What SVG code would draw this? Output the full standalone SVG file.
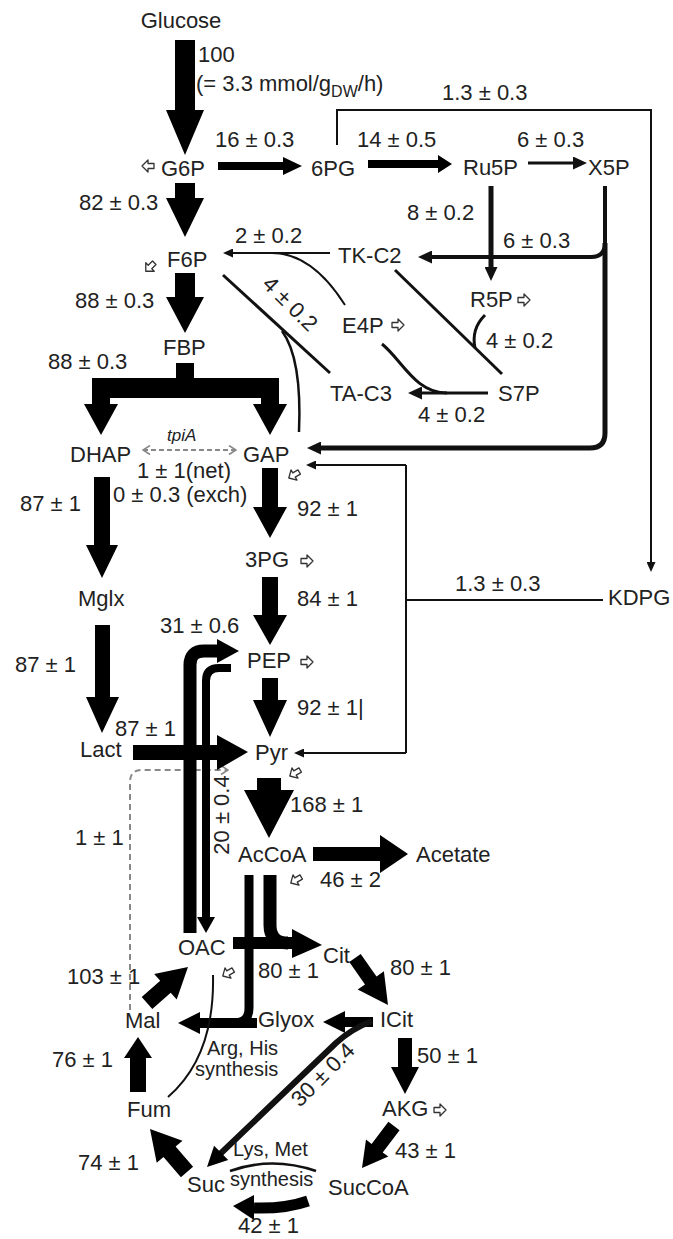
<svg xmlns="http://www.w3.org/2000/svg" width="673" height="1239" viewBox="0 0 673 1239">
<style>
.t{font-family:"Liberation Sans",Arial,Helvetica,sans-serif;font-size:22px;fill:#222}
.s{font-size:20px}
.i{font-style:italic;font-size:17px}
.m{text-anchor:middle}
.ln{fill:none;stroke:#111;stroke-linecap:butt}
.fat{fill:#000}
.band{fill:none;stroke:#000}
.dash{fill:none;stroke:#888;stroke-width:2}
</style>
<defs>
<marker id="hs" markerUnits="userSpaceOnUse" markerWidth="10" markerHeight="9" viewBox="0 0 10 9" refX="3" refY="4.5" orient="auto"><path d="M0,0 L10,4.5 L0,9 z" fill="#111"/></marker>
<marker id="hm" markerUnits="userSpaceOnUse" markerWidth="14" markerHeight="13" viewBox="0 0 14 13" refX="4" refY="6.5" orient="auto"><path d="M0,0 L14,6.5 L0,13 z" fill="#111"/></marker>
<marker id="chev" markerUnits="userSpaceOnUse" markerWidth="9" markerHeight="11" viewBox="0 0 9 11" refX="8" refY="5.5" orient="auto-start-reverse"><path d="M1,1 L8,5.5 L1,10" fill="none" stroke="#888" stroke-width="1.6"/></marker>
<path id="bio" d="M-6,-2.5 L0,-2.5 L0,-6 L6,0 L0,6 L0,2.5 L-6,2.5 Z" fill="#fff" stroke="#333" stroke-width="1.3" stroke-linejoin="round"/>
</defs>
<rect width="673" height="1239" fill="#fff"/>

<g id="connectors">
  <path class="dash" stroke-dasharray="6 4" d="M130 1010 L130 782 Q130 770 142 770 L228 770" marker-end="url(#chev)"/>
  <path class="dash" stroke-dasharray="5 3" d="M143 450 L236 450" marker-start="url(#chev)" marker-end="url(#chev)"/>
  <path class="ln" stroke-width="3" d="M528 163 L577 163" marker-end="url(#hm)"/>
  <path class="ln" stroke-width="2" d="M337 145 L337 110 L651 110 L651 565" marker-end="url(#hs)"/>
  <path class="ln" stroke-width="5" d="M491 186 L491 271" marker-end="url(#hm)"/>
  <path class="ln" stroke-width="4" d="M605 186 L605 243 Q605 257 591 257 L428 257" marker-end="url(#hm)"/>
  <path class="ln" stroke-width="5" d="M605 243 L605 433 Q605 448 590 448 L317 448" marker-end="url(#hm)"/>
  <path class="ln" stroke-width="2" d="M330 253 L230 253" marker-end="url(#hs)"/>
  <path class="ln" stroke-width="2" d="M272 253 Q312 253 345 305"/>
  <path class="ln" stroke-width="3" d="M223 275 L330 373"/>
  <path class="ln" stroke-width="2.5" d="M282 331 C296 350 301 385 299 432"/>
  <path class="ln" stroke-width="3" d="M395 270 L502 374"/>
  <path class="ln" stroke-width="3" d="M485 315 Q471 329 475 348"/>
  <path class="ln" stroke-width="3" d="M488 393 L418 393" marker-end="url(#hm)"/>
  <path class="ln" stroke-width="3" d="M382 344 C402 360 415 393 447 393"/>
  <path class="ln" stroke-width="2" d="M603 600 L406 600"/>
  <path class="ln" stroke-width="2" d="M406 465 L406 753"/>
  <path class="ln" stroke-width="2" d="M406 465 L313 465" marker-end="url(#hs)"/>
  <path class="ln" stroke-width="2" d="M406 753 L301 753" marker-end="url(#hs)"/>
  <polygon class="fat" points="175,40 195,40 195,110 204,110 185,155 166,110 175,110"/>
  <polygon class="fat" points="218,162 283,162 283,157 302,166 283,175 283,170 218,170"/>
  <polygon class="fat" points="368,160 438,160 438,155 452,164 438,173 438,168 368,168"/>
  <polygon class="fat" points="175,183 195,183 195,198 204,198 185,237 166,198 175,198"/>
  <polygon class="fat" points="175,273 195,273 195,297 204,297 185,333 166,297 175,297"/>
  <polygon class="fat" points="176,363 194,363 194,378 279,378 279,404 287,404 270,435 253,404 261,404 261,398 110,398 110,404 118,404 101,435 84,404 92,404 92,378 176,378"/>
  <polygon class="fat" points="94,477 110,477 110,545 118,545 102,578 86,545 94,545"/>
  <polygon class="fat" points="262,468 278,468 278,507 287,507 270,538 253,507 262,507"/>
  <polygon class="fat" points="262,577 278,577 278,615 287,615 270,645 253,615 262,615"/>
  <polygon class="fat" points="95,625 110,625 110,697 119,697 102,733 86,697 95,697"/>
  <polygon class="fat" points="262,678 278,678 278,700 287,700 270,737 253,700 262,700"/>
  <path class="band" stroke-width="13" d="M190 933 L190 665 Q190 651 204 651 L218 651"/>
  <polygon class="fat" points="217,639 239,651 217,663"/>
  <path class="band" stroke-width="8" d="M231 668 L219 668 Q206 668 206 681 L206 918"/>
  <polygon class="fat" points="197,917 215,917 206,933"/>
  <polygon class="fat" points="133,745 217,745 217,735 248,752 217,770 217,760 133,760"/>
  <polygon class="fat" points="257,778 281,778 281,790 294,790 269,838 244,790 257,790"/>
  <polygon class="fat" points="313,847 380,847 380,835 408,854 380,873 380,861 313,861"/>
  <path class="band" stroke-width="13" d="M270 875 L270 925 Q270 943 288 943"/>
  <polygon class="fat" points="233,937 292,937 292,929 322,945 292,958 292,949 233,949"/>
  <path class="band" stroke-width="9" d="M249 875 L249 1008 Q249 1023 234 1023 L200 1023"/>
  <path class="band" stroke-width="10" d="M257 1023 L200 1023"/>
  <polygon class="fat" points="200,1012 200,1034 178,1023"/>
  <polygon class="fat" points="349.3,962 365,984.5 357.7,989.6 388,1005 383.9,971.2 376.5,976.4 360.7,954"/>
  <polygon class="fat" points="373,1017 345,1017 345,1011 323,1022 345,1033 345,1027 373,1027"/>
  <polygon class="fat" points="152.3,1009 170.7,992.8 176.7,999.6 188,967 154.2,974 160.2,980.8 141.7,997"/>
  <polygon class="fat" points="130,1092 146,1092 146,1058 152,1058 138,1037 124,1058 130,1058"/>
  <polygon class="fat" points="193.1,1166.8 175.6,1146.5 182.5,1140.7 150,1129 156.7,1162.8 163.5,1157 180.9,1177.2"/>
  <polygon class="fat" points="398,1038 412,1038 412,1067 419,1067 405,1094 391,1067 398,1067"/>
  <polygon class="fat" points="388.4,1121.8 371.6,1143.9 366,1139.6 362,1168 388.3,1156.6 382.7,1152.4 399.6,1130.2"/>
  <path class="ln" stroke-width="6" d="M372 1021 C356 1027 346 1034 336 1043 L218 1156"/>
  <polygon class="fat" points="214.1,1145.8 207,1167 228.2,1159.9"/>
  <path class="band" stroke-width="11" d="M308 1201 Q285 1209 254 1208"/>
  <polygon class="fat" points="254,1195 254,1220 233,1206"/>
  <path class="ln" stroke-width="2" d="M213 975 C214 1020 205 1065 168 1097"/>
  <path class="ln" stroke-width="2.5" d="M230 1171 Q272 1156 316 1171"/>
</g>

<g id="icons">
  <use href="#bio" transform="translate(148,166) rotate(180)"/>
  <use href="#bio" transform="translate(150,267) rotate(135)"/>
  <use href="#bio" transform="translate(524,300)"/>
  <use href="#bio" transform="translate(398,325)"/>
  <use href="#bio" transform="translate(294,475) rotate(150)"/>
  <use href="#bio" transform="translate(307,561)"/>
  <use href="#bio" transform="translate(307,662)"/>
  <use href="#bio" transform="translate(295,773) rotate(150)"/>
  <use href="#bio" transform="translate(296,880) rotate(150)"/>
  <use href="#bio" transform="translate(228,973) rotate(150)"/>
  <use href="#bio" transform="translate(440,1110)"/>
</g>

<g id="n-glucose"><text class="t m" x="181" y="28">Glucose</text></g>
<g id="n-g6p"><text class="t m" x="183" y="176">G6P</text></g>
<g id="n-6pg"><text class="t m" x="333" y="176">6PG</text></g>
<g id="n-ru5p"><text class="t" x="463" y="175">Ru5P</text></g>
<g id="n-x5p"><text class="t" x="588" y="175">X5P</text></g>
<g id="n-f6p"><text class="t" x="167" y="267">F6P</text></g>
<g id="n-tkc2"><text class="t" x="338" y="263">TK-C2</text></g>
<g id="n-r5p"><text class="t" x="470" y="307">R5P</text></g>
<g id="n-e4p"><text class="t" x="342" y="333">E4P</text></g>
<g id="n-fbp"><text class="t" x="163" y="355">FBP</text></g>
<g id="n-tac3"><text class="t" x="330" y="401">TA-C3</text></g>
<g id="n-s7p"><text class="t" x="498" y="401">S7P</text></g>
<g id="n-dhap"><text class="t" x="70" y="462">DHAP</text></g>
<g id="n-gap"><text class="t" x="243" y="462">GAP</text></g>
<g id="n-3pg"><text class="t" x="245" y="567">3PG</text></g>
<g id="n-mglx"><text class="t" x="78" y="606">Mglx</text></g>
<g id="n-kdpg"><text class="t" x="608" y="605">KDPG</text></g>
<g id="n-pep"><text class="t" x="247" y="668">PEP</text></g>
<g id="n-lact"><text class="t" x="80" y="757">Lact</text></g>
<g id="n-pyr"><text class="t" x="255" y="760">Pyr</text></g>
<g id="n-accoa"><text class="t" x="238" y="862">AcCoA</text></g>
<g id="n-acetate"><text class="t" x="416" y="862">Acetate</text></g>
<g id="n-oac"><text class="t" x="178" y="955">OAC</text></g>
<g id="n-cit"><text class="t" x="323" y="963">Cit</text></g>
<g id="n-mal"><text class="t" x="125" y="1028">Mal</text></g>
<g id="n-glyox"><text class="t" x="258" y="1027">Glyox</text></g>
<g id="n-icit"><text class="t" x="380" y="1027">ICit</text></g>
<g id="n-fum"><text class="t" x="127" y="1117">Fum</text></g>
<g id="n-akg"><text class="t" x="382" y="1116">AKG</text></g>
<g id="n-suc"><text class="t" x="187" y="1192">Suc</text></g>
<g id="n-succoa"><text class="t" x="328" y="1195">SucCoA</text></g>

<g id="labels">
  <text class="t" x="198" y="62">100</text>
  <text class="t" x="196" y="91">(= 3.3 mmol/g<tspan font-size="16" dy="6">DW</tspan><tspan dy="-6">/h)</tspan></text>
  <text class="t" x="442" y="100">1.3 ± 0.3</text>
  <text class="t" x="215" y="147">16 ± 0.3</text>
  <text class="t" x="357" y="147">14 ± 0.5</text>
  <text class="t" x="517" y="147">6 ± 0.3</text>
  <text class="t" x="79" y="210">82 ± 0.3</text>
  <text class="t" x="407" y="220">8 ± 0.2</text>
  <text class="t" x="235" y="243">2 ± 0.2</text>
  <text class="t" x="503" y="248">6 ± 0.3</text>
  <text class="t m" transform="translate(285,309) rotate(45)">4 ± 0.2</text>
  <text class="t" x="75" y="308">88 ± 0.3</text>
  <text class="t" x="486" y="348">4 ± 0.2</text>
  <text class="t" x="48" y="369">88 ± 0.3</text>
  <text class="t" x="418" y="422">4 ± 0.2</text>
  <text class="t i" x="167" y="441">tpiA</text>
  <text class="t" x="137" y="478">1 ± 1(net)</text>
  <text class="t" x="113" y="502">0 ± 0.3 (exch)</text>
  <text class="t" x="20" y="511">87 ± 1</text>
  <text class="t" x="297" y="516">92 ± 1</text>
  <text class="t" x="455" y="591">1.3 ± 0.3</text>
  <text class="t" x="297" y="606">84 ± 1</text>
  <text class="t" x="160" y="633">31 ± 0.6</text>
  <text class="t" x="15" y="672">87 ± 1</text>
  <text class="t" x="297" y="715">92 ± 1|</text>
  <text class="t" x="115" y="736">87 ± 1</text>
  <text class="t m" transform="translate(229,815) rotate(-90)">20 ± 0.4</text>
  <text class="t" x="290" y="812">168 ± 1</text>
  <text class="t" x="75" y="845">1 ± 1</text>
  <text class="t" x="320" y="887">46 ± 2</text>
  <text class="t" x="390" y="975">80 ± 1</text>
  <text class="t" x="258" y="978">80 ± 1</text>
  <text class="t" x="67" y="984">103 ± 1</text>
  <text class="t s" x="207" y="1055">Arg, His</text>
  <text class="t s" x="195" y="1076">synthesis</text>
  <text class="t" x="417" y="1063">50 ± 1</text>
  <text class="t" x="52" y="1067">76 ± 1</text>
  <text class="t m" transform="translate(328,1080) rotate(-45)">30 ± 0.4</text>
  <text class="t" x="395" y="1158">43 ± 1</text>
  <text class="t" x="78" y="1170">74 ± 1</text>
  <text class="t s" x="233" y="1156">Lys, Met</text>
  <text class="t s" x="230" y="1186">synthesis</text>
  <text class="t" x="238" y="1233">42 ± 1</text>
</g>
</svg>
